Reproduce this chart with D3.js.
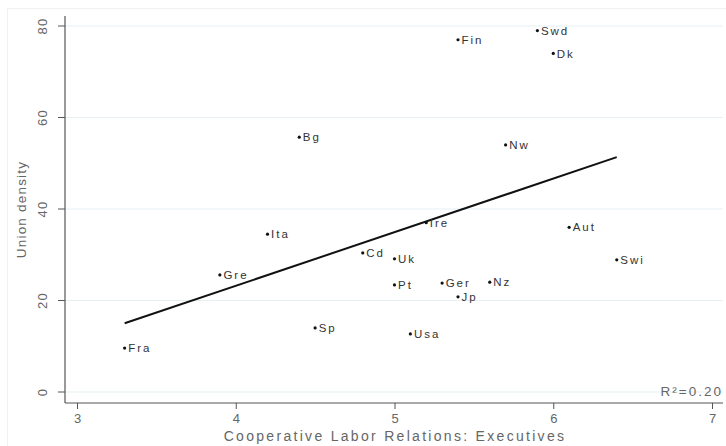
<!DOCTYPE html>
<html>
<head>
<meta charset="utf-8">
<script src="https://cdn.jsdelivr.net/npm/d3@7"></script>
<style>
  html, body { margin: 0; padding: 0; background: #fff; }
  svg { display: block; font-family: "Liberation Sans", Arial, sans-serif; }
</style>
</head>
<body>
<svg id="chart" width="726" height="446"></svg>
<script>
// Country codes, cooperative labor relations score (executives) and union density
const countries = ["Swd", "Fin", "Dk", "Bg", "Nw", "Ita", "Ire", "Aut", "Cd", "Uk",
                   "Swi", "Gre", "Pt", "Ger", "Nz", "Jp", "Sp", "Usa", "Fra"];
const cooperation = [5.9, 5.4, 6.0, 4.4, 5.7, 4.2, 5.2, 6.1, 4.8, 5.0,
                     6.4, 3.9, 5.0, 5.3, 5.6, 5.4, 4.5, 5.1, 3.3];
const unionDensity = [79, 77, 74, 55.7, 54, 34.5, 37, 36, 30.4, 29.1,
                      28.9, 25.6, 23.4, 23.8, 24.0, 20.8, 14, 12.7, 9.6];
const xTicks = [3, 4, 5, 6, 7];
const yTicks = [0, 20, 40, 60, 80];
const fitNote = "R²=0.20";
const xTitle = "Cooperative Labor Relations: Executives";
const yTitle = "Union density";

const svg = d3.select("#chart");

// faint outline of the graph region
svg.append("rect")
  .attr("x", 7.5).attr("y", 8.5).attr("width", 730).attr("height", 450)
  .attr("fill", "none").attr("stroke", "#eef2f4");

const x = d3.scaleLinear().domain([3, 7]).range([77, 712]);
const y = d3.scaleLinear().domain([0, 80]).range([392, 26]);
const axisX = 65, axisY = 403, rightEdge = 723, topEdge = 16;
const axisColor = "#555", labelColor = "#666";

// horizontal gridlines
svg.append("g").selectAll("line").data(yTicks).join("line")
  .attr("x1", axisX).attr("x2", rightEdge)
  .attr("y1", d => y(d)).attr("y2", d => y(d))
  .attr("stroke", "#e6f0f3").attr("stroke-width", 1.2);

// y axis: ticks with labels rotated to read upward
const yAxis = svg.append("g");
yAxis.selectAll("line").data(yTicks).join("line")
  .attr("x1", axisX - 7).attr("x2", axisX)
  .attr("y1", d => y(d)).attr("y2", d => y(d))
  .attr("stroke", axisColor);
yAxis.selectAll("text").data(yTicks).join("text")
  .attr("transform", d => `translate(42,${y(d)}) rotate(-90)`)
  .attr("dy", "0.35em").attr("text-anchor", "middle")
  .attr("fill", labelColor).attr("font-size", 13).attr("letter-spacing", 1.2)
  .text(d => d);
svg.append("line")
  .attr("x1", axisX).attr("x2", axisX).attr("y1", topEdge).attr("y2", axisY)
  .attr("stroke", axisColor).attr("stroke-width", 1.2);

// x axis
const xAxis = svg.append("g").attr("transform", `translate(0,${axisY})`)
  .call(d3.axisBottom(x).tickValues(xTicks).tickFormat(d3.format("d"))
    .tickSize(6).tickPadding(5).tickSizeOuter(0));
xAxis.select(".domain").remove();
xAxis.selectAll(".tick line").attr("stroke", axisColor);
xAxis.selectAll(".tick text")
  .attr("fill", labelColor).attr("font-size", 13).attr("font-family", null);
svg.append("line")
  .attr("x1", axisX).attr("x2", rightEdge).attr("y1", axisY).attr("y2", axisY)
  .attr("stroke", axisColor).attr("stroke-width", 1.2);

// axis titles
svg.append("text")
  .attr("x", 395).attr("y", 441)
  .attr("text-anchor", "middle").attr("fill", labelColor)
  .attr("font-size", 14).attr("letter-spacing", 2.3)
  .text(xTitle);
svg.append("text")
  .attr("transform", `translate(26,${(topEdge + axisY) / 2}) rotate(-90)`)
  .attr("text-anchor", "middle").attr("fill", labelColor)
  .attr("font-size", 13.5).attr("letter-spacing", 1.2)
  .text(yTitle);

// least-squares fit over the observed range
const pts = countries.map((c, i) => ({ c, x: cooperation[i], y: unionDensity[i] }));
const mx = d3.mean(pts, d => d.x), my = d3.mean(pts, d => d.y);
const slope = d3.sum(pts, d => (d.x - mx) * (d.y - my)) / d3.sum(pts, d => (d.x - mx) ** 2);
const intercept = my - slope * mx;
const [xmin, xmax] = d3.extent(pts, d => d.x);
svg.append("path")
  .datum([xmin, xmax])
  .attr("d", d3.line().x(d => x(d)).y(d => y(intercept + slope * d)))
  .attr("stroke", "#111").attr("stroke-width", 2).attr("fill", "none");

// country markers and labels
const g = svg.append("g");
g.selectAll("circle").data(pts).join("circle")
  .attr("cx", d => x(d.x)).attr("cy", d => y(d.y)).attr("r", 1.6).attr("fill", "#111");
g.selectAll("text").data(pts).join("text")
  .attr("x", d => x(d.x) + 3.5).attr("y", d => y(d.y)).attr("dy", "0.36em")
  .attr("fill", "#333").attr("font-size", 11.5).attr("letter-spacing", 2)
  .text(d => d.c);

// goodness-of-fit note
svg.append("text")
  .attr("x", 723).attr("y", 396).attr("text-anchor", "end")
  .attr("fill", labelColor).attr("font-size", 13.5).attr("letter-spacing", 2)
  .text(fitNote);
</script>
</body>
</html>
